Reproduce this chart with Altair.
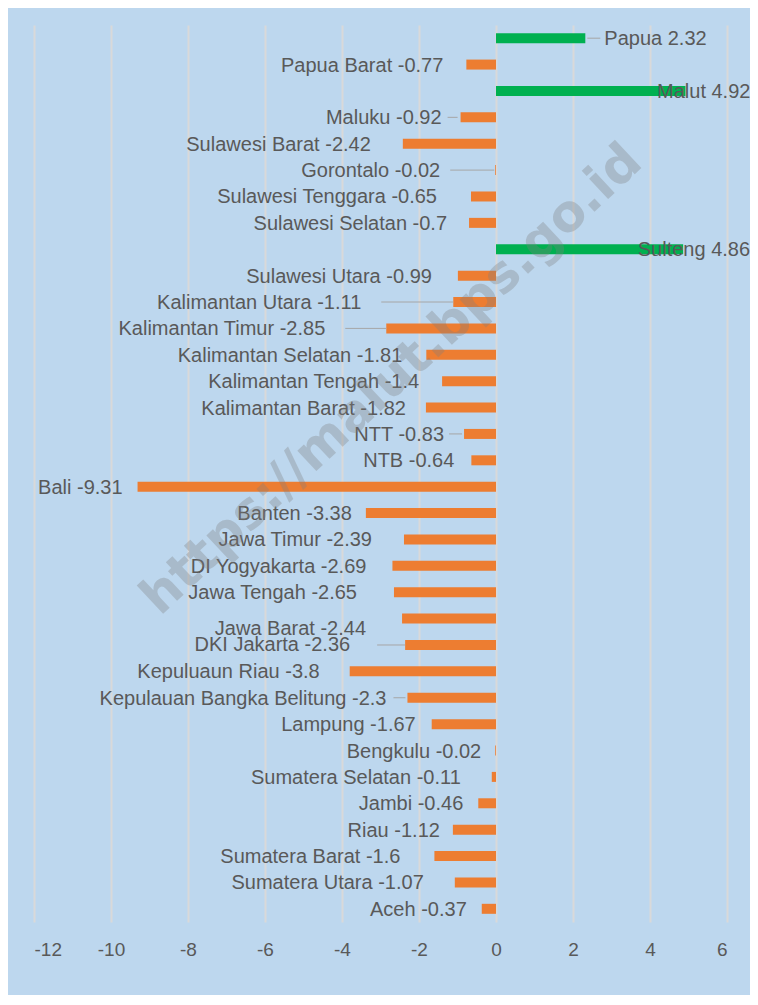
import altair as alt
import pandas as pd

# ---- data ----
provinces = ["Papua", "Papua Barat", "Malut", "Maluku", "Sulawesi Barat", "Gorontalo",
             "Sulawesi Tenggara", "Sulawesi Selatan", "Sulteng", "Sulawesi Utara",
             "Kalimantan Utara", "Kalimantan Timur", "Kalimantan Selatan", "Kalimantan Tengah",
             "Kalimantan Barat", "NTT", "NTB", "Bali", "Banten", "Jawa Timur", "DI Yogyakarta",
             "Jawa Tengah", "Jawa Barat", "DKI Jakarta", "Kepuluaun Riau",
             "Kepulauan Bangka Belitung", "Lampung", "Bengkulu", "Sumatera Selatan", "Jambi",
             "Riau", "Sumatera Barat", "Sumatera Utara", "Aceh"]
values = [2.32, -0.77, 4.92, -0.92, -2.42, -0.02, -0.65, -0.7, 4.86, -0.99,
          -1.11, -2.85, -1.81, -1.4, -1.82, -0.83, -0.64, -9.31, -3.38, -2.39, -2.69,
          -2.65, -2.44, -2.36, -3.8, -2.3, -1.67, -0.02, -0.11, -0.46,
          -1.12, -1.6, -1.07, -0.37]
tick_values = [-12, -10, -8, -6, -4, -2, 0, 2, 4, 6]
watermark = "https://malut.bps.go.id"

# ---- label placement styling (align, pixel dx, pixel dy) ----
label_style = {
    "Papua": ("left", 19, 0), "Malut": ("right", 65, 0), "Sulteng": ("right", 67, 0),
    "Papua Barat": ("right", -23, 0), "Maluku": ("right", -19, 0),
    "Sulawesi Barat": ("right", -32, 0), "Gorontalo": ("right", -55, 0),
    "Sulawesi Tenggara": ("right", -34, 0), "Sulawesi Selatan": ("right", -22, 0),
    "Sulawesi Utara": ("right", -26, 0), "Kalimantan Utara": ("right", -92, 0),
    "Kalimantan Timur": ("right", -61, 0), "Kalimantan Selatan": ("right", -24, 0),
    "Kalimantan Tengah": ("right", -23, 0), "Kalimantan Barat": ("right", -20, 0),
    "NTT": ("right", -20, 0), "NTB": ("right", -17, 0), "Bali": ("right", -15, 0),
    "Banten": ("right", -14, 0), "Jawa Timur": ("right", -32, 0),
    "DI Yogyakarta": ("right", -26, 0), "Jawa Tengah": ("right", -37, 0),
    "Jawa Barat": ("right", -36, 9), "DKI Jakarta": ("right", -55, -1),
    "Kepuluaun Riau": ("right", -30, 0), "Kepulauan Bangka Belitung": ("right", -21, 0),
    "Lampung": ("right", -16, 0), "Bengkulu": ("right", -14, 0),
    "Sumatera Selatan": ("right", -31, 0), "Jambi": ("right", -15, 0),
    "Riau": ("right", -13, 0), "Sumatera Barat": ("right", -34, 0),
    "Sumatera Utara": ("right", -31, 0), "Aceh": ("right", -15, 0),
}
leader_style = {
    "Papua": (2, 15), "Maluku": (-3, -13), "Gorontalo": (-1, -45),
    "Kalimantan Utara": (0, -72), "Kalimantan Timur": (0, -41), "NTT": (-2, -15),
    "DKI Jakarta": (0, -28), "Kepulauan Bangka Belitung": (-2, -14),
}

FONT = "Liberation Sans"
TEXT_COLOR = "#595959"

df = pd.DataFrame({"name": provinces, "value": values})
df["label"] = [f"{n} {v}" for n, v in zip(provinces, values)]

x_enc = alt.X("value:Q", scale=alt.Scale(domain=[-12, 6], nice=False, zero=False),
              axis=alt.Axis(values=tick_values, title=None, grid=True, gridColor="#d9d9d9",
                            gridWidth=2, domain=False, ticks=False, labelPadding=18,
                            labelFontSize=19, labelColor=TEXT_COLOR, labelFont=FONT,
                            labelExpr="datum.value + ''"))
y_enc = alt.Y("name:N", sort=provinces, axis=None,
              scale=alt.Scale(paddingInner=0, paddingOuter=0))

base = alt.Chart(df)

bars = base.mark_bar(size=10).encode(
    x=x_enc, y=y_enc,
    color=alt.condition(alt.datum.value > 0, alt.value("#00B050"), alt.value("#ED7D31")),
)

layers = [bars]

for n, (o1, o2) in leader_style.items():
    layers.append(
        base.transform_filter(alt.datum.name == n)
        .mark_rule(color="#a6a6a6", strokeWidth=1, xOffset=o1, x2Offset=o2)
        .encode(x="value:Q", x2="value:Q", y=alt.Y("name:N", sort=provinces))
    )

for n in provinces:
    al, dx, dy = label_style[n]
    layers.append(
        base.transform_filter(alt.datum.name == n)
        .mark_text(align=al, baseline="middle", dx=dx, dy=dy + 1, font=FONT, fontSize=20,
                   color=TEXT_COLOR)
        .encode(x="value:Q", y=alt.Y("name:N", sort=provinces), text="label:N")
    )

wm = alt.Chart(pd.DataFrame({"t": [watermark]})).mark_text(
    angle=317, font="DejaVu Sans", fontWeight="bold", fontSize=51, color="#7f7f7f",
    opacity=0.32, align="center", baseline="middle"
).encode(x=alt.value(358), y=alt.value(355), text="t:N")
layers.append(wm)

chart = alt.layer(*layers).properties(
    width=693, height=897,
    autosize=alt.AutoSizeParams(type="none"),
    padding={"left": 26, "top": 17, "right": 23, "bottom": 73},
    background="#BDD7EE",
).configure_view(stroke=None)

chart.save("out.html", embed_options={"renderer": "svg", "actions": False})
